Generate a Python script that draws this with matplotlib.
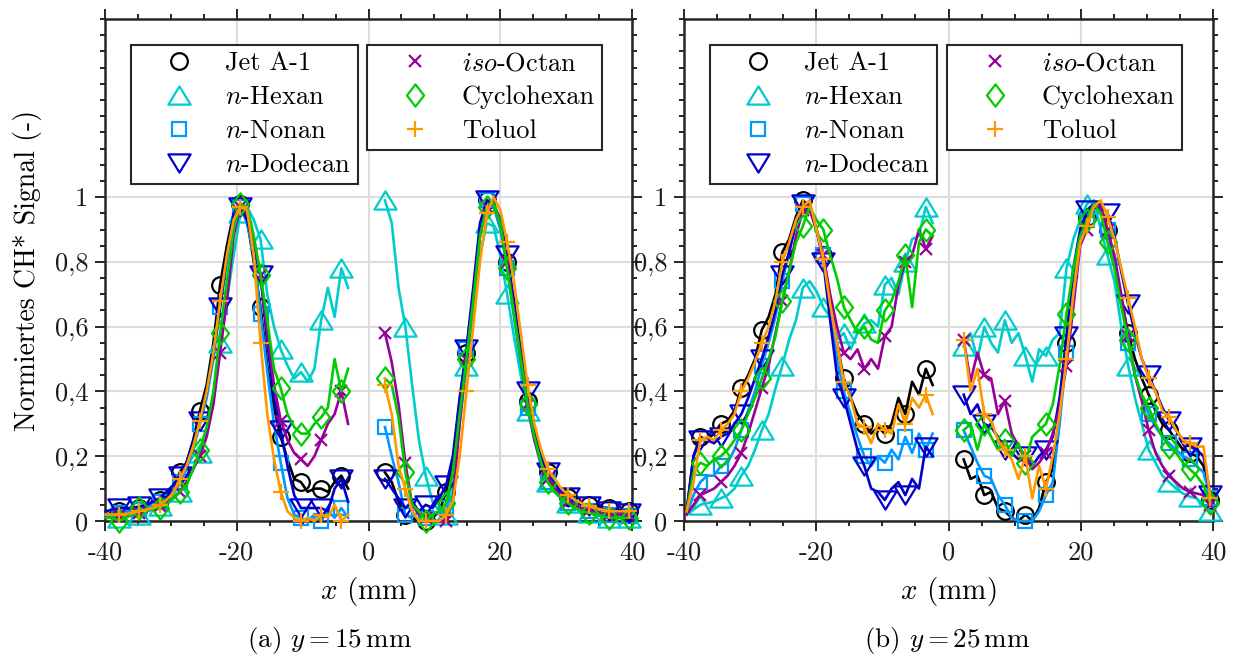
import numpy as np
import matplotlib
matplotlib.use("Agg")
import matplotlib.pyplot as plt
from matplotlib.lines import Line2D
from matplotlib.path import Path
from matplotlib.ticker import FixedLocator, MultipleLocator

# ---------------------------------------------------------------------------
# Measurement positions (mm) on both sides of the burner axis
# ---------------------------------------------------------------------------
x_a_left = np.linspace(-39.9, -3.1, 37)
x_a_right = np.linspace(2.5, 39.6, 37)
x_b_left = np.linspace(-39.6, -2.4, 37)
x_b_right = np.linspace(2.3, 39.6, 37)

# ---------------------------------------------------------------------------
# (a) y = 15 mm, normalised CH* signal
# ---------------------------------------------------------------------------
a_left_jet = [0.02, 0.025, 0.03, 0.03, 0.035, 0.04, 0.05, 0.055, 0.065, 0.08, 0.10, 0.15, 0.18, 0.25, 0.34, 0.42, 0.55, 0.73, 0.85, 0.95, 0.98, 0.93, 0.80, 0.66, 0.48, 0.35, 0.26, 0.19, 0.13, 0.12, 0.09, 0.10, 0.10, 0.09, 0.12, 0.14, 0.10]
a_left_hex = [0.01, 0.01, 0.01, 0.015, 0.02, 0.02, 0.03, 0.035, 0.045, 0.055, 0.07, 0.09, 0.12, 0.16, 0.21, 0.27, 0.37, 0.55, 0.68, 0.82, 0.95, 0.97, 0.93, 0.87, 0.70, 0.60, 0.53, 0.48, 0.44, 0.46, 0.43, 0.47, 0.62, 0.72, 0.63, 0.78, 0.72]
a_left_non = [0.02, 0.02, 0.025, 0.03, 0.03, 0.035, 0.04, 0.05, 0.06, 0.07, 0.09, 0.12, 0.16, 0.22, 0.30, 0.38, 0.50, 0.66, 0.80, 0.94, 0.97, 0.92, 0.82, 0.64, 0.46, 0.30, 0.18, 0.07, 0.02, 0.01, 0.0, 0.02, 0.0, 0.03, 0.01, 0.04, 0.01]
a_left_dod = [0.03, 0.035, 0.04, 0.04, 0.04, 0.045, 0.05, 0.06, 0.07, 0.09, 0.11, 0.14, 0.18, 0.24, 0.31, 0.40, 0.52, 0.66, 0.82, 0.95, 0.97, 0.93, 0.84, 0.76, 0.55, 0.38, 0.28, 0.17, 0.08, 0.04, 0.04, 0.04, 0.04, 0.03, 0.10, 0.13, 0.06]
a_left_iso = [0.01, 0.01, 0.015, 0.02, 0.02, 0.025, 0.03, 0.04, 0.045, 0.055, 0.07, 0.09, 0.12, 0.16, 0.20, 0.26, 0.36, 0.52, 0.68, 0.88, 0.97, 0.95, 0.87, 0.76, 0.58, 0.42, 0.31, 0.25, 0.21, 0.19, 0.17, 0.20, 0.25, 0.30, 0.33, 0.40, 0.30]
a_left_cyc = [0.01, 0.01, 0.0, 0.01, 0.02, 0.04, 0.03, 0.04, 0.04, 0.05, 0.07, 0.09, 0.11, 0.16, 0.22, 0.29, 0.40, 0.58, 0.74, 0.90, 0.98, 0.97, 0.88, 0.76, 0.62, 0.47, 0.41, 0.33, 0.29, 0.27, 0.27, 0.30, 0.32, 0.35, 0.50, 0.40, 0.47]
a_left_tol = [0.02, 0.02, 0.02, 0.022, 0.025, 0.03, 0.035, 0.04, 0.05, 0.065, 0.085, 0.13, 0.17, 0.23, 0.31, 0.40, 0.52, 0.68, 0.82, 0.93, 0.97, 0.96, 0.82, 0.55, 0.33, 0.19, 0.09, 0.03, 0.01, 0.0, 0.01, 0.0, 0.02, 0.01, 0.05, 0.0, 0.02]

a_right_jet = [0.15, 0.12, 0.06, 0.02, 0.01, 0.0, 0.0, 0.01, 0.03, 0.09, 0.18, 0.37, 0.52, 0.70, 0.90, 0.99, 0.98, 0.92, 0.80, 0.66, 0.52, 0.37, 0.27, 0.20, 0.15, 0.11, 0.09, 0.075, 0.06, 0.05, 0.05, 0.045, 0.042, 0.04, 0.035, 0.032, 0.03]
a_right_hex = [0.99, 0.92, 0.72, 0.60, 0.42, 0.25, 0.14, 0.06, 0.03, 0.02, 0.10, 0.30, 0.48, 0.64, 0.82, 0.92, 0.91, 0.82, 0.70, 0.57, 0.45, 0.34, 0.27, 0.18, 0.12, 0.09, 0.07, 0.055, 0.04, 0.03, 0.025, 0.02, 0.015, 0.01, 0.01, 0.01, 0.01]
a_right_non = [0.29, 0.20, 0.12, 0.02, 0.01, 0.03, 0.01, 0.03, 0.02, 0.04, 0.15, 0.35, 0.53, 0.70, 0.90, 0.99, 0.97, 0.90, 0.78, 0.63, 0.49, 0.35, 0.25, 0.17, 0.12, 0.09, 0.07, 0.055, 0.045, 0.04, 0.03, 0.025, 0.02, 0.02, 0.02, 0.015, 0.015]
a_right_dod = [0.13, 0.10, 0.07, 0.04, 0.06, 0.03, 0.05, 0.04, 0.07, 0.11, 0.20, 0.38, 0.53, 0.72, 0.92, 0.99, 0.98, 0.93, 0.82, 0.68, 0.53, 0.40, 0.28, 0.20, 0.15, 0.12, 0.09, 0.075, 0.06, 0.05, 0.045, 0.04, 0.035, 0.03, 0.03, 0.025, 0.025]
a_right_iso = [0.58, 0.49, 0.36, 0.18, 0.05, 0.02, 0.01, 0.0, 0.0, 0.0, 0.06, 0.30, 0.50, 0.68, 0.88, 0.97, 0.98, 0.92, 0.80, 0.65, 0.50, 0.36, 0.25, 0.18, 0.13, 0.10, 0.08, 0.06, 0.05, 0.04, 0.035, 0.03, 0.025, 0.02, 0.02, 0.02, 0.02]
a_right_cyc = [0.44, 0.42, 0.32, 0.15, 0.05, 0.03, 0.0, 0.02, 0.03, 0.055, 0.15, 0.33, 0.50, 0.68, 0.88, 0.97, 0.98, 0.92, 0.78, 0.64, 0.50, 0.36, 0.26, 0.18, 0.12, 0.09, 0.07, 0.055, 0.04, 0.03, 0.025, 0.02, 0.015, 0.01, 0.01, 0.01, 0.01]
a_right_tol = [0.42, 0.33, 0.17, 0.10, 0.03, 0.0, 0.0, 0.0, 0.0, 0.02, 0.06, 0.20, 0.40, 0.60, 0.80, 0.95, 1.00, 0.96, 0.86, 0.74, 0.58, 0.42, 0.30, 0.22, 0.16, 0.13, 0.10, 0.08, 0.065, 0.055, 0.045, 0.04, 0.035, 0.03, 0.03, 0.03, 0.03]

# ---------------------------------------------------------------------------
# (b) y = 25 mm, normalised CH* signal
# ---------------------------------------------------------------------------
b_left_jet = [0.03, 0.20, 0.26, 0.25, 0.27, 0.30, 0.31, 0.34, 0.41, 0.45, 0.50, 0.59, 0.63, 0.70, 0.83, 0.87, 0.94, 0.99, 0.97, 0.90, 0.82, 0.68, 0.55, 0.44, 0.38, 0.33, 0.30, 0.27, 0.29, 0.27, 0.30, 0.38, 0.33, 0.43, 0.39, 0.47, 0.42]
b_left_hex = [0.02, 0.035, 0.05, 0.055, 0.06, 0.07, 0.08, 0.10, 0.14, 0.17, 0.22, 0.28, 0.33, 0.41, 0.48, 0.56, 0.62, 0.72, 0.74, 0.71, 0.66, 0.63, 0.56, 0.58, 0.53, 0.58, 0.61, 0.62, 0.60, 0.73, 0.75, 0.70, 0.80, 0.87, 0.88, 0.97, 0.92]
b_left_non = [0.02, 0.08, 0.12, 0.14, 0.14, 0.17, 0.18, 0.22, 0.28, 0.34, 0.40, 0.48, 0.55, 0.63, 0.74, 0.83, 0.92, 0.98, 0.97, 0.90, 0.82, 0.67, 0.50, 0.40, 0.33, 0.26, 0.20, 0.17, 0.20, 0.18, 0.22, 0.19, 0.26, 0.21, 0.27, 0.22, 0.27]
b_left_dod = [0.03, 0.20, 0.25, 0.25, 0.24, 0.26, 0.27, 0.30, 0.33, 0.38, 0.44, 0.50, 0.57, 0.65, 0.76, 0.83, 0.92, 0.98, 0.97, 0.90, 0.80, 0.62, 0.45, 0.38, 0.30, 0.22, 0.17, 0.10, 0.09, 0.065, 0.10, 0.12, 0.08, 0.13, 0.10, 0.23, 0.20]
b_left_iso = [0.02, 0.05, 0.08, 0.09, 0.10, 0.12, 0.14, 0.17, 0.21, 0.27, 0.34, 0.41, 0.48, 0.58, 0.68, 0.77, 0.88, 0.96, 0.96, 0.90, 0.82, 0.70, 0.60, 0.52, 0.50, 0.53, 0.47, 0.50, 0.47, 0.57, 0.60, 0.73, 0.80, 0.82, 0.90, 0.84, 0.88]
b_left_cyc = [0.03, 0.15, 0.18, 0.17, 0.19, 0.20, 0.22, 0.25, 0.28, 0.33, 0.38, 0.44, 0.50, 0.57, 0.68, 0.77, 0.86, 0.91, 0.97, 0.93, 0.90, 0.82, 0.75, 0.66, 0.62, 0.58, 0.60, 0.56, 0.55, 0.65, 0.68, 0.74, 0.82, 0.66, 0.86, 0.90, 0.88]
b_left_tol = [0.03, 0.12, 0.25, 0.26, 0.25, 0.28, 0.30, 0.33, 0.40, 0.44, 0.49, 0.55, 0.60, 0.68, 0.80, 0.86, 0.93, 0.97, 0.99, 0.90, 0.81, 0.67, 0.55, 0.43, 0.38, 0.30, 0.29, 0.24, 0.30, 0.28, 0.27, 0.36, 0.30, 0.38, 0.35, 0.39, 0.33]

b_right_jet = [0.19, 0.13, 0.14, 0.08, 0.09, 0.04, 0.03, 0.01, 0.0, 0.02, 0.0, 0.04, 0.12, 0.16, 0.33, 0.55, 0.77, 0.88, 0.94, 0.98, 0.95, 0.90, 0.80, 0.68, 0.58, 0.50, 0.44, 0.39, 0.34, 0.30, 0.28, 0.25, 0.22, 0.21, 0.20, 0.17, 0.065]
b_right_hex = [0.54, 0.58, 0.50, 0.60, 0.55, 0.52, 0.62, 0.55, 0.58, 0.51, 0.43, 0.53, 0.51, 0.56, 0.58, 0.78, 0.87, 0.93, 0.98, 0.99, 0.90, 0.82, 0.74, 0.60, 0.48, 0.38, 0.30, 0.22, 0.18, 0.14, 0.12, 0.10, 0.085, 0.075, 0.07, 0.05, 0.03]
b_right_non = [0.28, 0.23, 0.18, 0.14, 0.13, 0.08, 0.05, 0.01, 0.0, 0.0, 0.0, 0.03, 0.08, 0.12, 0.30, 0.52, 0.75, 0.88, 0.93, 0.98, 0.96, 0.90, 0.80, 0.68, 0.55, 0.45, 0.38, 0.33, 0.29, 0.26, 0.24, 0.22, 0.20, 0.19, 0.17, 0.15, 0.07]
b_right_dod = [0.39, 0.33, 0.36, 0.30, 0.29, 0.26, 0.22, 0.21, 0.19, 0.20, 0.17, 0.20, 0.22, 0.26, 0.38, 0.57, 0.78, 0.90, 0.96, 0.98, 0.97, 0.95, 0.88, 0.77, 0.67, 0.58, 0.50, 0.45, 0.40, 0.35, 0.31, 0.28, 0.25, 0.23, 0.22, 0.20, 0.08]
b_right_iso = [0.56, 0.43, 0.52, 0.45, 0.44, 0.33, 0.37, 0.27, 0.23, 0.20, 0.16, 0.18, 0.21, 0.27, 0.35, 0.48, 0.66, 0.85, 0.90, 0.98, 0.97, 0.90, 0.82, 0.70, 0.57, 0.45, 0.37, 0.28, 0.21, 0.17, 0.14, 0.12, 0.10, 0.09, 0.085, 0.08, 0.05]
b_right_cyc = [0.28, 0.30, 0.22, 0.30, 0.26, 0.22, 0.25, 0.20, 0.24, 0.18, 0.26, 0.28, 0.30, 0.36, 0.48, 0.64, 0.78, 0.88, 0.93, 0.98, 0.95, 0.86, 0.78, 0.66, 0.56, 0.45, 0.39, 0.35, 0.30, 0.26, 0.23, 0.21, 0.18, 0.16, 0.14, 0.11, 0.055]
b_right_tol = [0.56, 0.40, 0.47, 0.33, 0.31, 0.25, 0.22, 0.19, 0.13, 0.20, 0.07, 0.17, 0.10, 0.20, 0.33, 0.50, 0.70, 0.86, 0.91, 0.97, 0.99, 0.94, 0.87, 0.78, 0.69, 0.60, 0.50, 0.44, 0.40, 0.34, 0.32, 0.28, 0.25, 0.24, 0.23, 0.23, 0.07]

fuel_labels = ["Jet A-1", r"$n$-Hexan", r"$n$-Nonan", r"$n$-Dodecan",
               r"$iso$-Octan", "Cyclohexan", "Toluol"]
y_tick_values = [0, 0.2, 0.4, 0.6, 0.8, 1.0]
y_tick_labels = ["0", "0,2", "0,4", "0,6", "0,8", "1"]
x_tick_values = [-40, -20, 0, 20, 40]
x_tick_labels = ["-40", "-20", "0", "20", "40"]

# ---------------------------------------------------------------------------
# Styling
# ---------------------------------------------------------------------------
plt.rcParams.update({
    "font.family": "serif",
    "font.serif": ["cmr10"],
    "mathtext.fontset": "cm",
    "axes.unicode_minus": False,
    "axes.formatter.use_mathtext": True,
})

FS = 19
FRAME = "#262626"


def closed(verts):
    codes = [Path.MOVETO] + [Path.LINETO] * (len(verts) - 1) + [Path.CLOSEPOLY]
    return Path(list(verts) + [verts[0]], codes)


tri_up = closed([(0, 1), (-1.22, -1), (1.22, -1)])
tri_down = closed([(0, -1), (-1.22, 1), (1.22, 1)])
diamond = closed([(0, 1), (0.77, 0), (0, -1), (-0.77, 0)])

colors = ["#000000", "#00CCCC", "#0099FF", "#0000CC", "#990099", "#00CC00", "#FF9900"]
markers = ["o", tri_up, "s", tri_down, "x", diamond, "+"]
msizes = [12, 16, 10, 16, 9, 16, 11.5]

fig = plt.figure(figsize=(12.33, 6.59), dpi=100)
ax_a = fig.add_axes([105 / 1233, 1 - 521 / 659, 527 / 1233, 502 / 659])
ax_b = fig.add_axes([684 / 1233, 1 - 521 / 659, 529 / 1233, 502 / 659])

panels = [
    (ax_a, x_a_left, x_a_right,
     [a_left_jet, a_left_hex, a_left_non, a_left_dod, a_left_iso, a_left_cyc, a_left_tol],
     [a_right_jet, a_right_hex, a_right_non, a_right_dod, a_right_iso, a_right_cyc, a_right_tol]),
    (ax_b, x_b_left, x_b_right,
     [b_left_jet, b_left_hex, b_left_non, b_left_dod, b_left_iso, b_left_cyc, b_left_tol],
     [b_right_jet, b_right_hex, b_right_non, b_right_dod, b_right_iso, b_right_cyc, b_right_tol]),
]

for ax, xl, xr, left_vals, right_vals in panels:
    for k in range(7):
        for x, y, every in ((xl, left_vals[k], (2, 3)), (xr, right_vals[k], (0, 3))):
            ax.plot(x, y, color=colors[k], lw=1.9, marker=markers[k], ms=msizes[k],
                    mfc="none", mew=1.6, markevery=every, zorder=3 + k, clip_on=False)

    ax.set_xlim(-40, 40)
    ax.set_ylim(0, 1.55)
    ax.xaxis.set_major_locator(FixedLocator(x_tick_values))
    ax.xaxis.set_minor_locator(MultipleLocator(5))
    ax.yaxis.set_major_locator(FixedLocator(y_tick_values))
    ax.yaxis.set_minor_locator(MultipleLocator(0.05))
    ax.set_xticklabels(x_tick_labels)
    ax.set_yticklabels(y_tick_labels)
    ax.tick_params(which="both", direction="out", top=True, right=True,
                   color=FRAME, width=1.4, labelsize=FS, labelcolor="#1a1a1a")
    ax.tick_params(which="major", length=7)
    ax.tick_params(which="minor", length=3.6)
    ax.tick_params(axis="x", which="major", pad=7)
    ax.tick_params(axis="y", which="major", pad=5)
    ax.grid(True, which="major", color="#dcdcdc", lw=1.5)
    ax.set_axisbelow(True)
    for sp in ax.spines.values():
        sp.set_color(FRAME)
        sp.set_linewidth(1.8)
    ax.set_xlabel(r"$x$ (mm)", fontsize=21)
    ax.xaxis.set_label_coords(0.5, -0.108)

    handles = [Line2D([], [], ls="none", color=colors[k], marker=markers[k], ms=msizes[k],
                      mfc="none", mew=1.6) for k in range(7)]
    common = dict(loc="upper left", borderaxespad=0, frameon=True, fancybox=False,
                  edgecolor=FRAME, framealpha=1, fontsize=FS, numpoints=1,
                  handlelength=3.1, handletextpad=0.22, borderpad=0.26,
                  labelspacing=0.38)
    leg1 = ax.legend(handles[:4], fuel_labels[:4], bbox_to_anchor=(0.049, 0.948), **common)
    leg1.get_frame().set_linewidth(1.5)
    ax.add_artist(leg1)
    leg2 = ax.legend(handles[4:], fuel_labels[4:], bbox_to_anchor=(0.498, 0.948), **common)
    leg2.get_frame().set_linewidth(1.5)

ax_a.set_ylabel("Normiertes CH* Signal (-)", fontsize=20)
ax_a.yaxis.set_label_coords(-0.12, 0.5)

fig.text(330 / 1233, 1 - 641 / 659, r"(a) $y = 15\,\mathrm{mm}$", fontsize=19.5,
         ha="center", va="center")
fig.text(947 / 1233, 1 - 641 / 659, r"(b) $y = 25\,\mathrm{mm}$", fontsize=19.5,
         ha="center", va="center")

fig.savefig("out.png", dpi=100)
